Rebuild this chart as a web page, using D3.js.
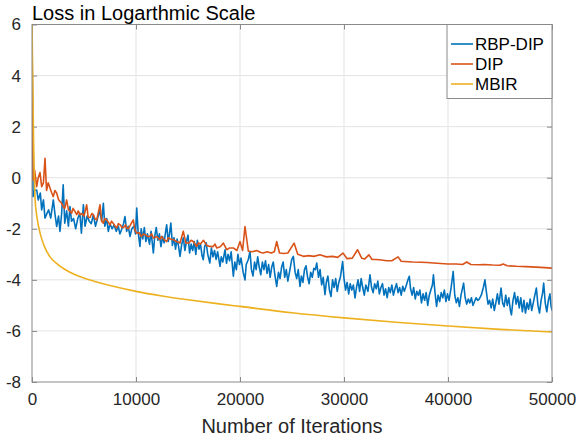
<!DOCTYPE html>
<html>
<head>
<meta charset="utf-8">
<script src="https://cdn.jsdelivr.net/npm/d3@7"></script>
<style>
  body { margin: 0; background: #fff; }
  svg { display: block; font-family: "Liberation Sans", Arial, sans-serif; }
</style>
</head>
<body>
<svg id="chart" width="579" height="439"></svg>
<script>
// axis setup
const xTicks = [0, 10000, 20000, 30000, 40000, 50000]
const yTicks = [-8, -6, -4, -2, 0, 2, 4, 6]
const seriesNames = ["RBP-DIP", "DIP", "MBIR"]
const seriesColors = ["#0072BD", "#D95319", "#EDB120"]

// [iteration, log loss]
const rbpDip = [
  [0, 5.5], [100, -0.74], [250, -0.5], [450, -0.48], [600, -0.87], [800, -0.6], [930, -1.26], [1100, -0.87],
  [1250, -1.58], [1450, -1.39], [1600, -1.26], [1800, -1.58], [2050, -0.87], [2200, -1.4], [2370, -1.91],
  [2550, -1.5], [2690, -2.1], [2850, -1.4], [3000, -0.28], [3150, -1.78], [3330, -1.3], [3500, -1.9],
  [3650, -1.13], [3800, -1.7], [4000, -1.6], [4200, -2.0], [4400, -1.6], [4600, -1.39], [4750, -2.17],
  [4940, -1.06], [5100, -1.9], [5300, -1.5], [5500, -1.7], [5700, -1.8], [5900, -1.45], [6100, -1.9],
  [6300, -1.6], [6500, -1.3], [6700, -1.7], [6860, -1.0], [7000, -1.9], [7180, -1.6], [7340, -2.1], [7500, -1.8],
  [7700, -2.0], [7900, -1.85], [8100, -2.1], [8300, -1.9], [8450, -2.2], [8600, -2.05], [8800, -1.8],
  [8940, -1.52], [9100, -2.1], [9250, -1.9], [9420, -2.3], [9600, -2.0], [9800, -1.9], [9950, -2.2],
  [10070, -1.19], [10200, -2.1], [10380, -2.69], [10500, -2.0], [10650, -2.4], [10800, -1.95], [10950, -2.5],
  [11100, -2.2], [11300, -2.6], [11450, -2.1], [11670, -2.95], [11800, -2.3], [11950, -1.95], [12100, -2.45],
  [12250, -2.2], [12400, -2.7], [12550, -2.3], [12700, -2.55], [12850, -2.1], [12950, -1.84], [13100, -2.5],
  [13200, -2.25], [13350, -1.78], [13500, -2.65], [13650, -2.35], [13800, -2.8], [13950, -2.4], [14100, -2.7],
  [14230, -3.08], [14400, -2.6], [14550, -2.35], [14700, -2.85], [14850, -2.5], [15000, -2.25], [15150, -2.95],
  [15300, -2.6], [15450, -2.85], [15600, -2.5], [15750, -3.0], [15900, -2.45], [16050, -2.8], [16200, -2.6],
  [16350, -3.05], [16470, -3.21], [16600, -2.7], [16750, -2.55], [16900, -3.0], [17100, -3.34], [17250, -2.75],
  [17400, -3.1], [17550, -2.85], [17700, -3.2], [17850, -2.9], [18080, -3.47], [18200, -3.1], [18350, -3.3],
  [18560, -2.82], [18700, -3.35], [18850, -3.0], [19000, -3.25], [19150, -2.9], [19360, -3.86], [19500, -3.3],
  [19650, -3.6], [19800, -3.0], [19950, -3.4], [20100, -3.15], [20300, -3.7], [20480, -4.0], [20600, -3.4],
  [20800, -3.2], [20960, -2.89], [21100, -3.6], [21250, -3.85], [21400, -3.3], [21550, -3.6], [21700, -3.1],
  [21850, -3.5], [22000, -3.8], [22150, -3.3], [22300, -3.6], [22450, -3.25], [22600, -3.75], [22750, -3.4],
  [22900, -3.9], [23050, -3.5], [23200, -3.3], [23350, -3.8], [23530, -4.26], [23700, -3.7], [23850, -3.95],
  [24000, -3.5], [24150, -3.3], [24300, -3.9], [24450, -3.6], [24600, -4.05], [24800, -3.6], [24970, -3.21],
  [25130, -3.08], [25300, -3.7], [25450, -3.95], [25600, -3.6], [25770, -4.26], [25900, -3.85], [26050, -4.1],
  [26200, -3.6], [26350, -3.45], [26500, -3.9], [26650, -4.15], [26800, -3.7], [26950, -3.9], [27100, -3.55],
  [27250, -3.6], [27380, -3.34], [27550, -3.9], [27700, -3.6], [27850, -4.2], [28000, -3.9], [28170, -4.58],
  [28300, -4.1], [28450, -3.85], [28600, -4.4], [28750, -4.65], [28900, -4.0], [29050, -4.3], [29200, -3.95],
  [29350, -4.45], [29500, -4.1], [29650, -3.9], [29870, -3.28], [30000, -3.95], [30150, -4.4], [30300, -4.1],
  [30450, -4.55], [30600, -4.15], [30750, -4.4], [30900, -4.2], [31060, -4.71], [31200, -4.3], [31350, -4.0],
  [31500, -4.45], [31650, -3.95], [31800, -4.3], [31950, -4.6], [32100, -4.2], [32300, -4.45], [32500, -3.8],
  [32650, -4.3], [32800, -4.5], [32950, -4.15], [33100, -4.35], [33250, -4.05], [33400, -4.55], [33550, -4.3],
  [33700, -4.15], [33850, -4.6], [34000, -4.35], [34150, -4.7], [34300, -4.3], [34450, -4.5], [34600, -4.2],
  [34750, -4.6], [34900, -4.35], [35050, -4.15], [35200, -4.5], [35350, -4.3], [35500, -4.6], [35650, -4.25],
  [35800, -4.45], [36000, -4.2], [36150, -4.0], [36280, -3.86], [36400, -4.35], [36550, -4.6], [36700, -4.3],
  [36850, -4.75], [37000, -4.45], [37150, -4.6], [37300, -4.4], [37450, -4.9], [37600, -4.55], [37750, -4.8],
  [37900, -4.5], [38050, -5.0], [38200, -4.6], [38350, -4.4], [38500, -4.2], [38600, -3.8], [38750, -4.5],
  [38900, -5.04], [39050, -4.6], [39200, -4.85], [39350, -4.5], [39500, -4.7], [39650, -4.4], [39800, -4.85],
  [39950, -4.55], [40100, -4.8], [40300, -4.3], [40500, -3.67], [40650, -4.6], [40800, -4.9], [40950, -4.7],
  [41100, -5.04], [41250, -4.6], [41500, -4.13], [41650, -4.7], [41800, -4.95], [41950, -4.75], [42100, -4.9],
  [42250, -4.7], [42400, -5.0], [42550, -4.85], [42700, -4.7], [42850, -4.8], [43000, -4.75], [43200, -4.6],
  [43400, -4.3], [43550, -4.0], [43700, -4.5], [43850, -4.95], [44000, -4.8], [44150, -5.1], [44300, -4.75],
  [44450, -5.2], [44600, -4.9], [44750, -4.55], [44900, -4.95], [45100, -4.32], [45250, -4.9], [45400, -5.05],
  [45550, -4.6], [45700, -5.0], [45850, -4.7], [46000, -5.2], [46100, -5.37], [46250, -4.8], [46400, -4.5],
  [46550, -4.95], [46700, -4.65], [46850, -5.1], [47000, -4.7], [47150, -5.25], [47300, -4.8], [47450, -5.3],
  [47600, -4.9], [47750, -5.15], [47900, -4.75], [48050, -5.2], [48200, -4.9], [48350, -4.6], [48500, -4.32],
  [48650, -5.0], [48800, -5.3], [48950, -4.8], [49100, -4.5], [49200, -4.13], [49350, -4.9], [49500, -5.25],
  [49650, -4.8], [49800, -4.55], [49900, -5.0], [50000, -5.2]
]

const dip = [
  [0, 5.8], [100, -0.1], [250, 0.3], [450, -0.35], [600, 0.0], [770, 0.2], [930, -0.35], [1100, -0.2],
  [1250, 0.76], [1400, -0.5], [1550, -0.2], [1730, -0.4], [1900, -0.6], [2050, -0.74], [2200, -0.5],
  [2370, -0.6], [2550, -0.85], [2700, -0.93], [2850, -1.0], [3000, -1.13], [3150, -1.2], [3330, -0.87],
  [3500, -1.26], [3650, -1.3], [3810, -1.39], [3950, -1.2], [4100, -1.3], [4300, -1.45], [4450, -1.3],
  [4600, -1.45], [4800, -1.4], [5000, -1.5], [5260, -1.06], [5400, -1.55], [5580, -1.56], [5750, -1.4],
  [5900, -1.45], [6050, -1.6], [6220, -1.65], [6540, -1.06], [6700, -1.7], [6860, -1.78], [7000, -1.6],
  [7180, -1.65], [7350, -1.75], [7500, -1.85], [7650, -1.7], [7800, -1.78], [8000, -1.9], [8140, -1.97],
  [8300, -1.8], [8500, -1.85], [8650, -1.95], [8800, -1.95], [9000, -1.85], [9100, -1.97], [9250, -2.0],
  [9400, -1.9], [9740, -1.65], [9900, -2.05], [10070, -2.17], [10300, -2.15], [10500, -2.3], [10700, -2.2],
  [10900, -2.23], [11100, -2.3], [11300, -2.3], [11500, -2.2], [11670, -2.36], [12000, -2.3], [12300, -2.43],
  [12450, -2.3], [12600, -2.38], [12800, -2.45], [12950, -2.5], [13100, -2.35], [13300, -2.4], [13600, -2.43],
  [13900, -2.5], [14230, -2.56], [14550, -2.1], [14800, -2.56], [15100, -2.55], [15300, -2.45], [15500, -2.5],
  [15840, -2.69], [16000, -2.55], [16200, -2.6], [16480, -2.45], [16800, -2.65], [17100, -2.69], [17400, -2.7],
  [17600, -2.6], [17760, -2.75], [18100, -2.7], [18400, -2.56], [18720, -2.82], [19000, -2.75], [19360, -2.75],
  [19700, -2.85], [20000, -2.5], [20250, -2.85], [20480, -1.91], [20800, -2.88], [21200, -2.9], [21600, -2.85],
  [22000, -2.93], [22240, -2.95], [22600, -2.9], [23000, -2.95], [23300, -2.9], [23530, -2.5], [23800, -2.95],
  [24200, -2.97], [24600, -2.95], [25200, -2.56], [25550, -3.0], [26100, -3.08], [26600, -3.05], [27100, -3.08],
  [27700, -3.02], [28300, -3.1], [28900, -3.08], [29400, -3.12], [29900, -2.95], [30300, -3.17], [30800, -3.15],
  [31300, -2.82], [31700, -3.15], [32000, -3.18], [32400, -3.02], [32700, -3.2], [33100, -3.2], [33600, -3.22],
  [34100, -3.25], [34600, -3.25], [35200, -3.1], [35500, -3.27], [35800, -3.28], [36600, -3.3], [37400, -3.31],
  [38000, -3.32], [38600, -3.34], [39300, -3.36], [40000, -3.38], [40800, -3.38], [41400, -3.4], [41800, -3.3],
  [42200, -3.4], [43000, -3.41], [43500, -3.4], [44300, -3.42], [45000, -3.43], [45300, -3.38], [45700, -3.45],
  [46600, -3.47], [47500, -3.48], [48500, -3.5], [49300, -3.52], [50000, -3.54]
]

const mbir = [
  [0, 6], [100, 3.0], [150, 1.5], [220, 0.2], [300, -0.87], [500, -1.6], [770, -2.16], [1200, -2.7],
  [1730, -3.1], [2500, -3.4], [3650, -3.7], [5000, -3.93], [6220, -4.08], [8000, -4.27], [10000, -4.45],
  [12500, -4.63], [15000, -4.78], [18000, -4.94], [20000, -5.04], [25000, -5.29], [30000, -5.49],
  [35000, -5.66], [40000, -5.81], [45000, -5.94], [50000, -6.04]
]

const allSeries = [rbpDip, dip, mbir]

const svg = d3.select("#chart")
const plotLeft = 32, plotRight = 552, plotTop = 24.5, plotBottom = 382
const gridColor = "#e3e3e3"
const axisColor = "#8a8a8a"
const textColor = "#262626"

const x = d3.scaleLinear().domain([0, 50000]).range([plotLeft, plotRight])
const y = d3.scaleLinear().domain([-8, 6]).range([plotBottom, plotTop])

// grid
svg.append("g").selectAll("line").data(xTicks.slice(1, -1)).join("line")
  .attr("x1", d => x(d)).attr("x2", d => x(d))
  .attr("y1", plotTop).attr("y2", plotBottom)
  .attr("stroke", gridColor).attr("stroke-width", 1)
svg.append("g").selectAll("line").data(yTicks.slice(1, -1)).join("line")
  .attr("x1", plotLeft).attr("x2", plotRight)
  .attr("y1", d => y(d)).attr("y2", d => y(d))
  .attr("stroke", gridColor).attr("stroke-width", 1)

// axes, matlab style: ticks pointing inward on all four sides
const styleAxis = g => {
  g.select(".domain").remove()
  g.selectAll(".tick line").attr("stroke", axisColor)
  g.selectAll(".tick text").attr("fill", textColor).attr("font-size", 17)
    .attr("font-family", "'Liberation Sans', Arial, sans-serif")
}
svg.append("g").attr("transform", `translate(0,${plotBottom})`)
  .call(d3.axisBottom(x).tickValues(xTicks).tickFormat(d3.format("d")).tickSizeInner(-5).tickPadding(11))
  .call(styleAxis)
svg.append("g").attr("transform", `translate(${plotLeft},0)`)
  .call(d3.axisLeft(y).tickValues(yTicks).tickFormat(d => d < 0 ? "-" + Math.abs(d) : d).tickSizeInner(-5).tickPadding(11))
  .call(styleAxis)
svg.append("g").attr("transform", `translate(0,${plotTop})`)
  .call(d3.axisTop(x).tickValues(xTicks).tickFormat("").tickSizeInner(-5))
  .call(styleAxis)
svg.append("g").attr("transform", `translate(${plotRight},0)`)
  .call(d3.axisRight(y).tickValues(yTicks).tickFormat("").tickSizeInner(-5))
  .call(styleAxis)

// lines
svg.append("clipPath").attr("id", "plotClip").append("rect")
  .attr("x", plotLeft).attr("y", plotTop).attr("width", plotRight - plotLeft).attr("height", plotBottom - plotTop)
const lineGen = d3.line().x(d => x(d[0])).y(d => y(d[1]))
const smoothGen = d3.line().x(d => x(d[0])).y(d => y(d[1])).curve(d3.curveMonotoneX)
const plot = svg.append("g").attr("clip-path", "url(#plotClip)")
allSeries.forEach((s, i) => {
  plot.append("path").datum(s)
    .attr("d", i === 2 ? smoothGen : lineGen)
    .attr("fill", "none")
    .attr("stroke", seriesColors[i])
    .attr("stroke-width", 1.6)
    .attr("stroke-linejoin", "round")
})

// box
svg.append("rect").attr("x", plotLeft).attr("y", plotTop)
  .attr("width", plotRight - plotLeft).attr("height", plotBottom - plotTop)
  .attr("fill", "none").attr("stroke", axisColor).attr("stroke-width", 1)

// legend
const legend = svg.append("g")
legend.append("rect").attr("x", 447).attr("y", plotTop)
  .attr("width", plotRight - 447).attr("height", 74)
  .attr("fill", "#fff").attr("stroke", axisColor).attr("stroke-width", 1)
seriesNames.forEach((name, i) => {
  const ly = 44 + i * 20
  legend.append("line").attr("x1", 451).attr("x2", 473).attr("y1", ly).attr("y2", ly)
    .attr("stroke", seriesColors[i]).attr("stroke-width", 1.6)
  legend.append("text").attr("x", 475).attr("y", ly + 6)
    .attr("font-size", 17).attr("fill", "#000").text(name)
})

// title and axis label
svg.append("text").attr("x", plotLeft).attr("y", 19.5)
  .attr("font-size", 20).attr("fill", "#000").text("Loss in Logarthmic Scale")
svg.append("text").attr("x", (plotLeft + plotRight) / 2).attr("y", 433)
  .attr("text-anchor", "middle").attr("font-size", 20).attr("fill", textColor)
  .text("Number of Iterations")
</script>
</body>
</html>
